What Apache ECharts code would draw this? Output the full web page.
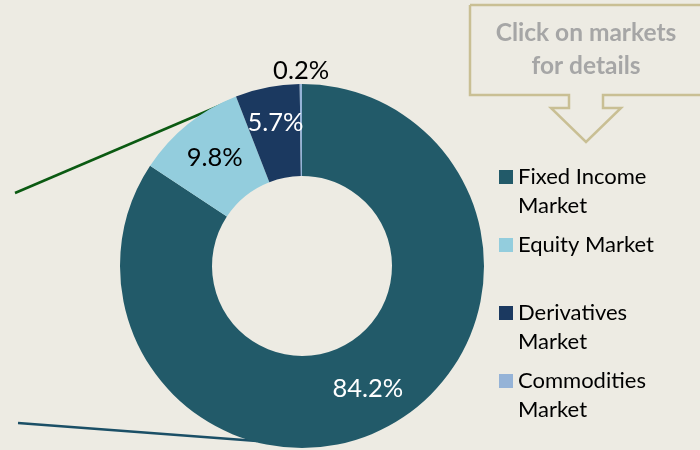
<!DOCTYPE html>
<html><head><meta charset="utf-8">
<script src="https://cdn.jsdelivr.net/npm/echarts@6/dist/echarts.min.js"></script>
<style>html,body{margin:0;padding:0;background:#EDEBE3;}#c{width:700px;height:450px;}</style>
</head><body><div id="c"></div>
<script>
const markets = ['Fixed Income Market', 'Equity Market', 'Derivatives Market', 'Commodities Market'];
const legendLabels = [' \nFixed Income\nMarket', ' \nEquity Market\n ', ' \nDerivatives\nMarket', ' \nCommodities\nMarket'];
const shares = [84.2, 9.8, 5.7, 0.2];
const colors = ['#225A69', '#93CDDD', '#1B3960', '#95B3D7'];
const labelColors = ['#FFFFFF', '#000000', '#FFFFFF', '#000000'];
const calloutText = 'Click on markets\nfor details';

const FONT = 'Lato';
// trailing blank lines lift a label above its slice's middle radius
const labelTail = ['', '', '\n ', '\n \n \n \n '];
const labelLineH = [28, 28, 14, 28];

const chart = echarts.init(document.getElementById('c'), null, {renderer:'canvas'});
chart.setOption({
  backgroundColor: '#EDEBE3',
  animation: false,
  legend: {
    orient: 'vertical', left: 499, top: 133.5, padding: 0,
    itemWidth: 14, itemHeight: 14, itemGap: -19, icon: 'rect',
    selectedMode: false,
    data: markets,
    formatter: n => legendLabels[markets.indexOf(n)],
    textStyle: {fontFamily: FONT, fontSize: 22, color: '#000', lineHeight: 29}
  },
  graphic: [
    {type:'polyline', shape:{points:[[470,5],[702,5],[702,95],[603,95],[603,108],[621,108],[586,142],[551,108],[569,108],[569,95],[470,95],[470,5]]},
     style:{stroke:'#C9BF94', lineWidth:2.5, fill:'none'}},
    {type:'text', x:586, y:50, style:{text: calloutText, fill:'#A6A6A6', font:'bold 24.5px ' + FONT, align:'center', verticalAlign:'middle', lineHeight:33}},
    {type:'line', shape:{x1:15,y1:193,x2:233,y2:100}, style:{stroke:'#0B5A12', lineWidth:2.5}},
    {type:'line', shape:{x1:18,y1:423,x2:257,y2:441}, style:{stroke:'#1B4F66', lineWidth:2.5}}
  ],
  series: [{
    type: 'pie', center: [302, 266], radius: [90, 182],
    startAngle: 90, clockwise: true, avoidLabelOverlap: false,
    labelLine: {show:false},
    labelLayout: {hideOverlap: false},
    data: markets.map((m,i) => ({
      name: m, value: shares[i],
      itemStyle: {color: colors[i]},
      label: {show:true, position:'inside', color: labelColors[i], fontFamily: FONT, fontSize: 25.5,
        lineHeight: labelLineH[i], formatter: shares[i].toFixed(1) + '%' + labelTail[i]}
    }))
  }]
});
</script></body></html>
